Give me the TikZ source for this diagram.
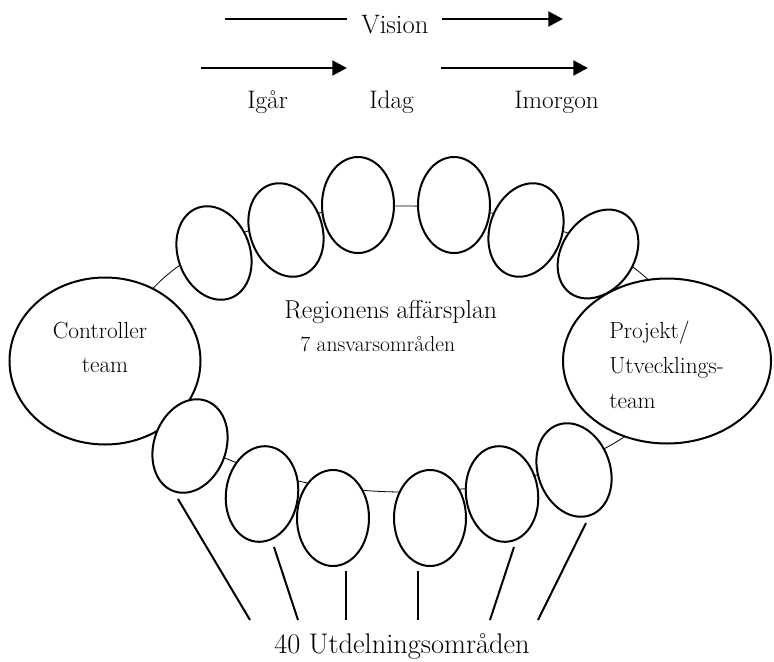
\documentclass[tikz,border=0pt]{standalone}
\usepackage{fontspec}
\usetikzlibrary{shapes.geometric,arrows.meta}
\begin{document}
\begin{tikzpicture}[x=0.75pt,y=-0.75pt,
  pod/.style={ellipse,draw,fill=white,line width=1.5pt,inner sep=0pt,
    minimum width=54pt,minimum height=72pt},
  team/.style={ellipse,draw,fill=white,line width=1.5pt,inner sep=0pt},
  ring/.style={ellipse,draw,line width=0.6pt,inner sep=0pt,
    minimum width=417pt,minimum height=214.5pt},
  timeline/.style={line width=2.2pt,-{Triangle[length=11pt,width=11pt]}},
  feeder/.style={line width=1.5pt},
  lbl/.style={inner sep=0pt,anchor=base west},
  mid/.style={inner sep=0pt,anchor=base}]
\useasboundingbox (0,0) rectangle (774,661);

% time axis
\coordinate (v1) at (225,19);
\coordinate (v2) at (347,19);
\coordinate (v3) at (442,19);
\coordinate (v4) at (563,19);
\coordinate (r1) at (201,68);
\coordinate (r2) at (347,68);
\coordinate (r3) at (441,68);
\coordinate (r4) at (588,68);
\draw[line width=1.5pt] (v1) -- (v2);
\draw[timeline] (v3) -- (v4);
\draw[timeline] (r1) -- (r2);
\draw[timeline] (r3) -- (r4);
\node[lbl,font=\fontsize{20}{20}\selectfont] (vision) at (361,33) {Vision};
\node[lbl,font=\fontsize{19}{19}\selectfont] (igar) at (247,108) {Igår};
\node[lbl,font=\fontsize{19}{19}\selectfont] (idag) at (369,108) {Idag};
\node[lbl,font=\fontsize{19}{19}\selectfont] (imorgon) at (514,108) {Imorgon};

% the region ring
\node[ring] (region) at (405,349) {};

% responsibility areas on the ring
\node[pod,rotate=20]  (p1) at (214,253) {};
\node[pod,rotate=20]  (p2) at (286,230) {};
\node[pod]            (p3) at (358,205) {};
\node[pod]            (p4) at (454,205) {};
\node[pod,rotate=-20] (p5) at (526,230) {};
\node[pod,rotate=-35] (p6) at (598,254) {};

% the two teams
\node[team,minimum width=143.25pt,minimum height=125.25pt] (ctrl) at (105,361) {};
\node[team,minimum width=156pt,minimum height=123.75pt] (proj) at (667,361) {};

\node[pod,rotate=-20] (b1) at (190,446) {};
\node[pod,rotate=-8]  (b2) at (262,494) {};
\node[pod]            (b3) at (333,518) {};
\node[pod]            (b4) at (430,518) {};
\node[pod,rotate=8]   (b5) at (502,494) {};
\node[pod,rotate=20]  (b6) at (574,470) {};

% texts
\node[lbl,font=\fontsize{19.4}{19.4}\selectfont] (plan) at (284,318) {Regionens affärsplan};
\node[lbl,font=\fontsize{16.2}{16.2}\selectfont] (areas) at (300,351) {7 ansvarsområden};
\node[mid,font=\fontsize{17.5}{17.5}\selectfont] (ctrlA) at (100,338) {Controller};
\node[mid,font=\fontsize{17.5}{17.5}\selectfont] (ctrlB) at (105,372) {team};
\node[lbl,font=\fontsize{17.5}{17.5}\selectfont] (projA) at (609,338) {Projekt/};
\node[lbl,font=\fontsize{17.5}{17.5}\selectfont] (projB) at (609,373) {Utvecklings-};
\node[lbl,font=\fontsize{17.5}{17.5}\selectfont] (projC) at (609,408) {team};
\node[lbl,font=\fontsize{21.3}{21.3}\selectfont] (dist) at (274,653) {40 Utdelningsområden};

% feeders to the distribution areas
\coordinate (f1a) at (178,499); \coordinate (f1b) at (250,620);
\coordinate (f2a) at (274,547); \coordinate (f2b) at (298,620);
\coordinate (f3a) at (346,571); \coordinate (f3b) at (346,620);
\coordinate (f4a) at (418,571); \coordinate (f4b) at (418,620);
\coordinate (f5a) at (514,547); \coordinate (f5b) at (490,620);
\coordinate (f6a) at (586,523); \coordinate (f6b) at (538,620);
\foreach \i in {1,...,6} {\draw[feeder] (f\i a) -- (f\i b);}
\end{tikzpicture}
\end{document}
